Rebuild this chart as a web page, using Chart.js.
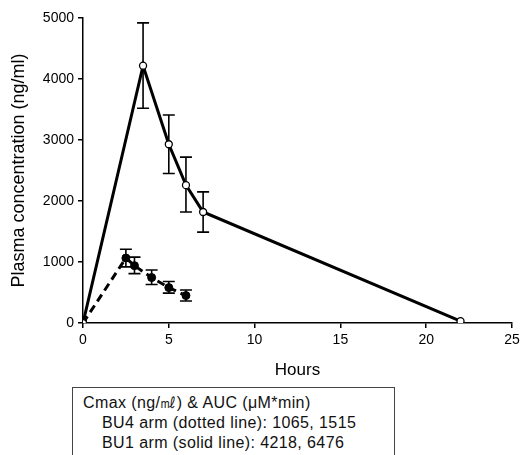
<!DOCTYPE html>
<html><head><meta charset="utf-8">
<script src="https://cdn.jsdelivr.net/npm/chart.js@4/dist/chart.umd.min.js"></script>
<style>
html,body{margin:0;padding:0;background:#fff;}
#wrap{position:relative;width:520px;height:455px;overflow:hidden;}
#box{position:absolute;left:72px;top:387px;width:323px;height:100px;border:1px solid #444;font-family:"Liberation Sans",Arial,sans-serif;font-size:16px;letter-spacing:0.4px;color:#111;line-height:20px;padding:5px 0 0 10px;box-sizing:border-box;white-space:nowrap;}
#box .ind{padding-left:19px;}
</style></head>
<body><div id="wrap"><canvas id="c" width="520" height="385" style="width:520px;height:385px;display:block"></canvas>
<div id="box"><div>Cmax (ng/㎖) &amp; AUC (μM*min)</div><div class="ind">BU4 arm (dotted line): 1065, 1515</div><div class="ind">BU1 arm (solid line): 4218, 6476</div></div></div>
<script>
const bu1Hours = [0, 3.5, 5, 6, 7, 22];
const bu1Conc  = [0, 4218, 2930, 2260, 1820, 30];
const bu1Upper = [0, 4920, 3410, 2720, 2150, 30];
const bu1Lower = [0, 3520, 2450, 1820, 1490, 30];
const bu4Hours = [0, 2.5, 3, 4, 5, 6];
const bu4Conc  = [0, 1065, 940, 745, 580, 450];
const bu4Upper = [0, 1210, 1080, 870, 680, 540];
const bu4Lower = [0, 920, 810, 630, 490, 360];
const xTicks = [0, 5, 10, 15, 20, 25];
const yTicks = [0, 1000, 2000, 3000, 4000, 5000];

const errorBars = {
  id: 'errorBars',
  beforeDatasetsDraw(chart) {
    const ctx = chart.ctx, xs = chart.scales.x, ys = chart.scales.y;
    ctx.save();
    ctx.strokeStyle = '#000';
    ctx.lineWidth = 1.6;
    chart.data.datasets.forEach(ds => {
      ds.data.forEach((p, i) => {
        const up = ds.upper[i], lo = ds.lower[i];
        if (up === lo) return;
        const x = xs.getPixelForValue(p.x);
        const yu = ys.getPixelForValue(up), yl = ys.getPixelForValue(lo);
        ctx.beginPath();
        ctx.moveTo(x, yu); ctx.lineTo(x, yl);
        ctx.moveTo(x - 6, yu); ctx.lineTo(x + 6, yu);
        ctx.moveTo(x - 6, yl); ctx.lineTo(x + 6, yl);
        ctx.stroke();
      });
    });
    ctx.restore();
  }
};

const font = {family: '"Liberation Sans", Arial, sans-serif'};
new Chart(document.getElementById('c'), {
  type: 'scatter',
  data: {
    datasets: [
      {
        label: 'BU1', data: bu1Hours.map((h, i) => ({x: h, y: bu1Conc[i]})),
        upper: bu1Upper, lower: bu1Lower,
        showLine: true, borderColor: '#000', borderWidth: 3,
        pointRadius: 3.5, pointBackgroundColor: '#fff', pointBorderColor: '#000', pointBorderWidth: 1.3
      },
      {
        label: 'BU4', data: bu4Hours.map((h, i) => ({x: h, y: bu4Conc[i]})),
        upper: bu4Upper, lower: bu4Lower,
        showLine: true, borderColor: '#000', borderWidth: 3, borderDash: [8, 5],
        pointRadius: 4, pointBackgroundColor: '#000', pointBorderColor: '#000', pointBorderWidth: 1
      }
    ]
  },
  options: {
    responsive: false, animation: false,
    layout: {padding: {left: 0, right: 8, top: 18, bottom: 0}},
    plugins: {legend: {display: false}, tooltip: {enabled: false}},
    scales: {
      x: {
        type: 'linear', min: 0, max: 25,
        afterBuildTicks: s => { s.ticks = xTicks.map(v => ({value: v})); },
        afterFit: s => { s.height = 62; s.paddingRight = 0; s.paddingLeft = 0; },
        ticks: {color: '#000', font: {...font, size: 14}, padding: 4, callback: v => String(v)},
        grid: {display: true, drawOnChartArea: false, drawTicks: true, tickLength: 5, color: '#000', lineWidth: 1.5},
        border: {display: true, color: '#000', width: 1.5},
        title: {display: true, text: 'Hours', color: '#000', font: {...font, size: 17}, padding: {top: 0, bottom: 4}}
      },
      y: {
        type: 'linear', min: 0, max: 5000,
        afterBuildTicks: s => { s.ticks = yTicks.map(v => ({value: v})); },
        afterFit: s => { s.width = 83; s.paddingTop = 0; s.paddingBottom = 0; },
        ticks: {color: '#000', font: {...font, size: 14}, padding: 4, callback: v => String(v)},
        grid: {display: true, drawOnChartArea: false, drawTicks: true, tickLength: 5, color: '#000', lineWidth: 1.5},
        border: {display: true, color: '#000', width: 1.5},
        title: {display: true, text: 'Plasma concentration (ng/ml)', color: '#000', font: {...font, size: 18}, padding: {top: 8, bottom: 0}}
      }
    }
  },
  plugins: [errorBars]
});
</script></body></html>
